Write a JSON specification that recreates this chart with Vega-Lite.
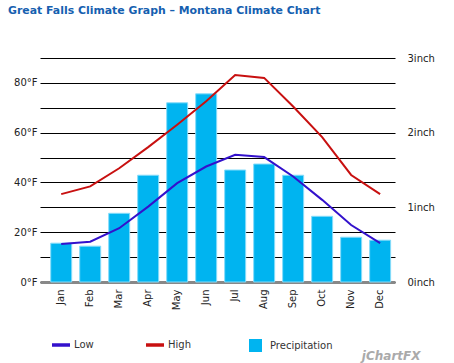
{
  "$schema": "https://vega.github.io/schema/vega-lite/v6.json",
  "width": 355,
  "height": 224,
  "autosize": {"type": "none"},
  "padding": {"left": 40, "top": 58, "right": 59, "bottom": 81},
  "background": "white",
  "config": {
    "view": {"stroke": null},
    "font": "DejaVu Sans",
    "axis": {"labelFont": "DejaVu Sans", "labelFontSize": 10, "labelColor": "#222"},
    "legend": {"labelFont": "DejaVu Sans", "labelFontSize": 10, "labelColor": "#333333"}
  },
  "title": {
    "text": "Great Falls Climate Graph – Montana Climate Chart",
    "anchor": "start",
    "frame": "group",
    "dx": -32,
    "offset": 37,
    "font": "DejaVu Sans",
    "fontSize": 10.9,
    "fontWeight": "bold",
    "color": "#1560b0"
  },
  "data": {
    "values": [
      {"month": "Jan", "low": 15.3, "high": 35.3, "precip": 0.52},
      {"month": "Feb", "low": 16.2, "high": 38.4, "precip": 0.48},
      {"month": "Mar", "low": 21.6, "high": 45.7, "precip": 0.92},
      {"month": "Apr", "low": 30.3, "high": 54.2, "precip": 1.43},
      {"month": "May", "low": 39.7, "high": 63.2, "precip": 2.40},
      {"month": "Jun", "low": 46.4, "high": 72.6, "precip": 2.52},
      {"month": "Jul", "low": 51.1, "high": 83.2, "precip": 1.50},
      {"month": "Aug", "low": 50.2, "high": 82.0, "precip": 1.58},
      {"month": "Sep", "low": 42.4, "high": 70.5, "precip": 1.43},
      {"month": "Oct", "low": 33.0, "high": 58.2, "precip": 0.88},
      {"month": "Nov", "low": 22.9, "high": 43.0, "precip": 0.60},
      {"month": "Dec", "low": 15.6, "high": 35.3, "precip": 0.56}
    ]
  },
  "encoding": {
    "x": {
      "field": "month",
      "type": "nominal",
      "sort": null,
      "scale": {"paddingInner": 0.276, "paddingOuter": 0.26, "align": 0.71},
      "axis": {
        "title": "jChartFX",
        "titleAnchor": "end",
        "titleAlign": "right",
        "titleX": 380,
        "titleY": 68,
        "titleColor": "#aaaaaa",
        "titleFontStyle": "italic",
        "titleFontWeight": "bold",
        "titleFontSize": 12,
        "titleFont": "DejaVu Sans",
        "labelAngle": -90,
        "labelPadding": 7,
        "ticks": false,
        "domainColor": "#888888",
        "domainWidth": 3,
        "grid": false
      }
    }
  },
  "layer": [
    {
      "mark": {"type": "bar", "stroke": "#86dcfa", "strokeWidth": 1},
      "encoding": {
        "y": {
          "field": "precip",
          "type": "quantitative",
          "scale": {"domain": [0, 3], "nice": false},
          "axis": {
            "orient": "right",
            "title": null,
            "values": [0, 1, 2, 3],
            "labelExpr": "datum.value + 'inch'",
            "ticks": false,
            "domain": false,
            "grid": false,
            "labelPadding": 12
          }
        },
        "fill": {
          "datum": "Precipitation",
          "type": "nominal",
          "scale": {"domain": ["Precipitation"], "range": ["#00b4f0"]},
          "legend": {
            "title": null,
            "orient": "none",
            "legendX": 209,
            "legendY": 281,
            "symbolType": "square",
            "symbolSize": 169,
            "symbolStrokeWidth": 0,
            "labelOffset": 8
          }
        }
      }
    },
    {
      "layer": [
        {
          "mark": {"type": "line", "strokeWidth": 2},
          "encoding": {
            "y": {"field": "low", "type": "quantitative"},
            "stroke": {"datum": "Low", "type": "nominal"}
          }
        },
        {
          "mark": {"type": "line", "strokeWidth": 2},
          "encoding": {
            "y": {"field": "high", "type": "quantitative"},
            "stroke": {
              "datum": "High",
              "type": "nominal",
              "scale": {"domain": ["Low", "High"], "range": ["#3311cc", "#c81010"]},
              "legend": {
                "title": null,
                "orient": "none",
                "legendX": 10,
                "legendY": 276,
                "direction": "horizontal",
                "gridAlign": "all",
                "columnPadding": 42,
                "symbolType": "stroke",
                "symbolSize": 324,
                "symbolStrokeWidth": 3.5,
                "labelOffset": 2
              }
            }
          }
        }
      ],
      "encoding": {
        "y": {
          "type": "quantitative",
          "scale": {"domain": [0, 90], "nice": false},
          "axis": {
            "orient": "left",
            "title": null,
            "values": [0, 10, 20, 30, 40, 50, 60, 70, 80, 90],
            "labelExpr": "(datum.value % 20 == 0 && datum.value < 90) ? datum.value + '°F' : ''",
            "ticks": false,
            "domain": false,
            "grid": true,
            "gridColor": "#000000",
            "gridWidth": 1,
            "gridOpacity": 1,
            "labelPadding": 3
          }
        }
      }
    }
  ],
  "resolve": {"scale": {"y": "independent"}}
}
